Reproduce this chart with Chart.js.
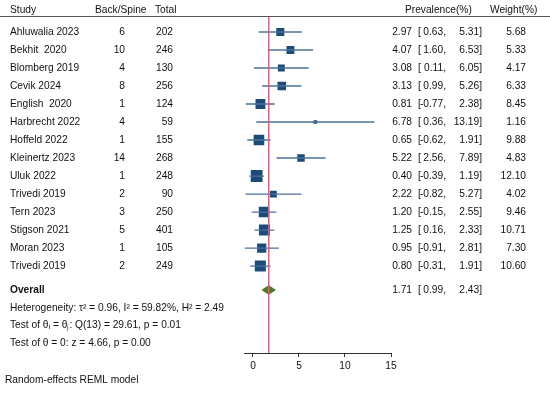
<!DOCTYPE html>
<html>
<head>
<meta charset="utf-8">
<script src="https://cdn.jsdelivr.net/npm/chart.js@4"></script>
<style>
  body { margin: 0; background: #fff; }
</style>
</head>
<body>
<canvas id="forest" width="550" height="393"></canvas>
<script>
// study data
var studies = ["Ahluwalia 2023", "Bekhit  2020", "Blomberg 2019", "Cevik 2024", "English  2020", "Harbrecht 2022",
    "Hoffeld 2022", "Kleinertz 2023", "Uluk 2022", "Trivedi 2019", "Tern 2023", "Stigson 2021", "Moran 2023", "Trivedi 2019"];
var backSpine = [6, 10, 4, 8, 1, 4, 1, 14, 1, 2, 3, 5, 1, 2];
var totals = [202, 246, 130, 256, 124, 59, 155, 268, 248, 90, 250, 401, 105, 249];
var prevalence = [2.97, 4.07, 3.08, 3.13, 0.81, 6.78, 0.65, 5.22, 0.40, 2.22, 1.20, 1.25, 0.95, 0.80];
var ciLow = [0.63, 1.60, 0.11, 0.99, -0.77, 0.36, -0.62, 2.56, -0.39, -0.82, -0.15, 0.16, -0.91, -0.31];
var ciHigh = [5.31, 6.53, 6.05, 5.26, 2.38, 13.19, 1.91, 7.89, 1.19, 5.27, 2.55, 2.33, 2.81, 1.91];
var weights = [5.68, 5.33, 4.17, 6.33, 8.45, 1.16, 9.88, 4.83, 12.10, 4.02, 9.46, 10.71, 7.30, 10.60];
var overall = { est: 1.71, lo: 0.99, hi: 2.43 };
var xTicks = [0, 5, 10, 15];
var notes = [
    "Heterogeneity: \u03c4\u00b2 = 0.96, I\u00b2 = 59.82%, H\u00b2 = 2.49",
    "Test of \u03b8\u1d62 = \u03b8\u2c7c: Q(13) = 29.61, p = 0.01",
    "Test of \u03b8 = 0: z = 4.66, p = 0.00"
];
var footnote = "Random-effects REML model";

var FONT = "'Liberation Sans', Arial, sans-serif";
var FSIZE = 10.2;
var NAVY = "#1c4b78";
var overallRow = studies.length + 1.33;

// CI segments, broken with NaN gaps
var ciPoints = [];
studies.forEach(function (s, i) {
    ciPoints.push({ x: ciLow[i], y: i + 1 });
    ciPoints.push({ x: ciHigh[i], y: i + 1 });
    ciPoints.push({ x: NaN, y: NaN });
});

var squares = prevalence.map(function (p, i) { return { x: p, y: i + 1 }; });
var radii = weights.map(function (w) { return 2.4 * Math.sqrt(w); });

var diamond = [
    { x: overall.lo, y: overallRow },
    { x: overall.est, y: overallRow - 0.24 },
    { x: overall.hi, y: overallRow },
    { x: overall.est, y: overallRow + 0.24 },
    { x: overall.lo, y: overallRow }
];

function fmt(v) { return v.toFixed(2); }

var textPlugin = {
    id: "forestText",
    afterDraw: function (chart) {
        var ctx = chart.ctx;
        var y = chart.scales.y;
        var top = chart.chartArea.top;
        var f = FSIZE + "px " + FONT;
        ctx.save();
        ctx.fillStyle = "#111";
        ctx.textBaseline = "middle";
        ctx.font = f;

        // header
        ctx.textAlign = "left";
        ctx.fillText("Study", 10, 10);
        ctx.fillText("Back/Spine", 95, 10);
        ctx.fillText("Total", 155, 10);
        ctx.fillText("Prevalence(%)", 405, 10);
        ctx.fillText("Weight(%)", 490, 10);

        ctx.strokeStyle = "#555";
        ctx.lineWidth = 1;
        ctx.beginPath();
        ctx.moveTo(0, top - 0.5);
        ctx.lineTo(550, top - 0.5);
        ctx.stroke();

        studies.forEach(function (s, i) {
            var py = y.getPixelForValue(i + 1) + 0.5;
            ctx.textAlign = "left";
            ctx.fillText(s, 10, py);
            ctx.textAlign = "right";
            ctx.fillText(String(backSpine[i]), 125, py);
            ctx.fillText(String(totals[i]), 173, py);
            ctx.fillText(fmt(prevalence[i]), 412, py);
            ctx.textAlign = "left";
            ctx.fillText("[", 418, py);
            ctx.textAlign = "right";
            ctx.fillText(fmt(ciLow[i]) + ",", 446, py);
            ctx.fillText(fmt(ciHigh[i]) + "]", 482, py);
            ctx.fillText(fmt(weights[i]), 526, py);
        });

        var oy = y.getPixelForValue(overallRow) + 0.5;
        ctx.textAlign = "left";
        ctx.font = "bold " + f;
        ctx.fillText("Overall", 10, oy);
        ctx.font = f;
        ctx.textAlign = "right";
        ctx.fillText(fmt(overall.est), 412, oy);
        ctx.textAlign = "left";
        ctx.fillText("[", 418, oy);
        ctx.textAlign = "right";
        ctx.fillText(fmt(overall.lo) + ",", 446, oy);
        ctx.fillText(fmt(overall.hi) + "]", 482, oy);

        ctx.textAlign = "left";
        notes.forEach(function (n, k) {
            ctx.fillText(n, 10, y.getPixelForValue(overallRow + 1 + k * 0.98));
        });
        ctx.fillText(footnote, 5, y.getPixelForValue(overallRow + 5));
        ctx.restore();
    }
};

new Chart(document.getElementById("forest"), {
    type: "scatter",
    data: {
        datasets: [
            {
                label: "overall line",
                data: [{ x: overall.est, y: 0.1667 }, { x: overall.est, y: 18.83 }],
                showLine: true,
                borderColor: "#dc5f7c",
                borderWidth: 1,
                pointRadius: 0
            },
            {
                label: "CI",
                data: ciPoints,
                showLine: true,
                spanGaps: false,
                borderColor: "#4c709a",
                borderWidth: 1.3,
                pointRadius: 0
            },
            {
                label: "estimates",
                data: squares,
                pointStyle: "rect",
                pointRadius: radii,
                backgroundColor: NAVY,
                borderColor: NAVY,
                borderWidth: 0
            },
            {
                label: "overall",
                data: diamond,
                showLine: true,
                fill: "shape",
                backgroundColor: "#53792d",
                borderColor: "#53792d",
                borderWidth: 1,
                pointRadius: 0
            }
        ]
    },
    options: {
        responsive: false,
        animation: false,
        layout: { padding: { left: 244.6, right: 159, top: 17, bottom: 18 } },
        plugins: { legend: { display: false }, tooltip: { enabled: false } },
        scales: {
            x: {
                type: "linear",
                min: -0.91,
                max: 15,
                afterBuildTicks: function (s) { s.ticks = xTicks.map(function (v) { return { value: v }; }); },
                afterFit: function (s) { s.height = 22; },
                grid: { drawOnChartArea: false, drawTicks: true, tickLength: 4, color: "#333" },
                border: { display: true, color: "#333", width: 1 },
                ticks: { color: "#111", font: { family: FONT, size: FSIZE }, padding: 3, maxRotation: 0 }
            },
            y: {
                type: "linear",
                display: false,
                reverse: true,
                min: 0.1667,
                max: 18.83
            }
        }
    },
    plugins: [textPlugin]
});
</script>
</body>
</html>
